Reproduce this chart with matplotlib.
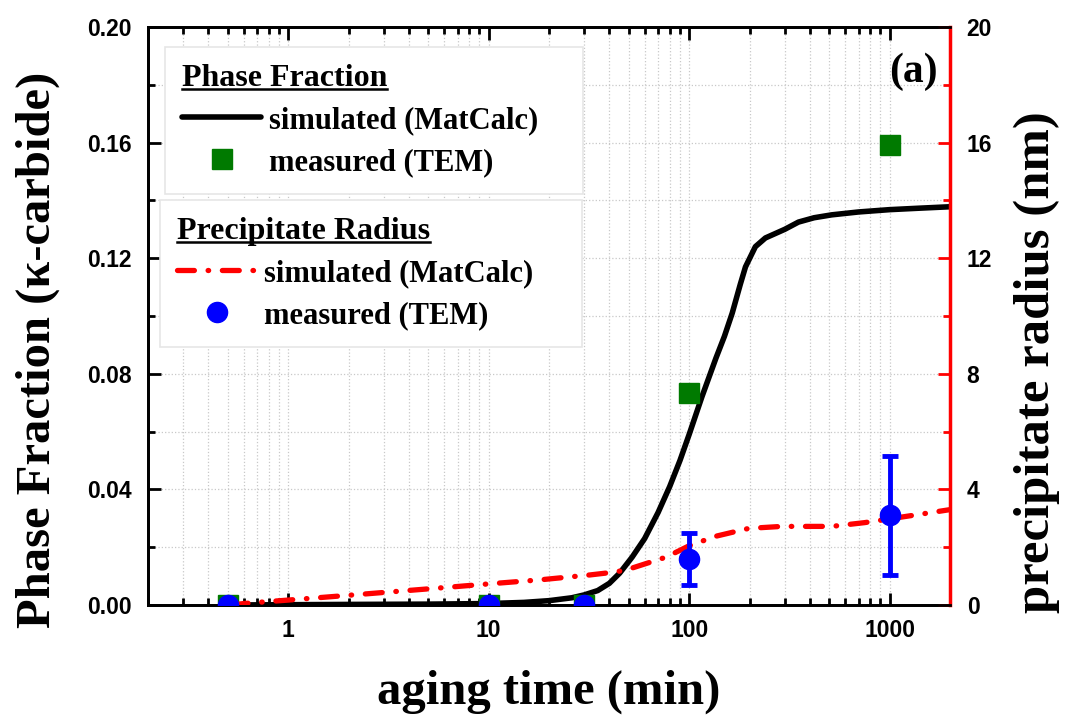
import matplotlib
matplotlib.use("Agg")
import matplotlib.pyplot as plt
from matplotlib.lines import Line2D
from matplotlib.ticker import LogLocator, MultipleLocator, FixedLocator, NullFormatter, FuncFormatter
import numpy as np

# ---- data ----
t_frac_sim = [0.5, 1, 2, 5, 10, 15, 20, 26, 30, 35, 40, 45, 52, 60, 70, 80, 90, 100,
              116, 136, 150, 164, 180, 191, 214, 240, 300, 351, 420, 514, 700, 1000, 1400, 2000]
frac_sim = [0.0, 0.0001, 0.0002, 0.0003, 0.0005, 0.0009, 0.0015, 0.0025, 0.0035, 0.005,
            0.0075, 0.011, 0.0166, 0.023, 0.032, 0.041, 0.050, 0.059, 0.0722, 0.0854, 0.093,
            0.101, 0.111, 0.117, 0.124, 0.127, 0.130, 0.1325, 0.134, 0.135, 0.136, 0.1368,
            0.1373, 0.1378]

t_rad_sim = [0.52, 0.6, 0.8, 1.0, 1.8, 3.2, 5.7, 10, 18, 32, 38, 46, 52, 77, 100, 136,
             198, 290, 514, 750, 1000, 1330, 2000]
rad_sim = [0.0, 0.05, 0.12, 0.17, 0.31, 0.45, 0.59, 0.73, 0.87, 1.04, 1.1, 1.18, 1.28,
           1.66, 2.05, 2.38, 2.65, 2.72, 2.72, 2.85, 2.98, 3.11, 3.3]

t_meas = [0.5, 10, 30, 100, 1000]
frac_meas = [0.0, 0.0, 0.0, 0.0735, 0.159]
rad_meas = [0.0, 0.0, 0.0, 1.6, 3.1]
rad_err = [0.0, 0.0, 0.0, 0.9, 2.05]

x_ticks = [1, 10, 100, 1000]
x_ticklabels = ["1", "10", "100", "1000"]
y_left_ticks = [0.00, 0.04, 0.08, 0.12, 0.16, 0.20]
y_right_ticks = [0, 4, 8, 12, 16, 20]

SERIF = "Liberation Serif"
SANS = "Liberation Sans"

fig = plt.figure(figsize=(10.65, 7.2), dpi=100)
ax = fig.add_axes([148/1065, 1-605/720, (950-148)/1065, (605-27)/720])
ax2 = ax.twinx()

# phase fraction
ax.plot(t_frac_sim, frac_sim, color="black", lw=4.0, solid_capstyle="round", zorder=3)
ax.plot(t_meas, frac_meas, ls="none", marker="s", ms=14, color="#007a00", zorder=4)

# radius
ax2.plot(t_rad_sim, rad_sim, color="red", lw=3.8, dashes=(3.2, 2.6, 0.1, 2.6),
         dash_capstyle="round", zorder=3)
ax2.errorbar(t_meas, rad_meas, yerr=rad_err, ls="none", marker="o", ms=14.5,
             color="#0000ff", ecolor="#0000ff", elinewidth=3.5, capsize=6, capthick=3.5,
             zorder=4)

ax.set_xscale("log")
ax.set_xlim(0.2, 2000)
ax.set_ylim(0, 0.20)
ax2.set_ylim(0, 20)

ax.xaxis.set_major_locator(FixedLocator(x_ticks))
ax.xaxis.set_major_formatter(FuncFormatter(lambda v, p: x_ticklabels[x_ticks.index(v)] if v in x_ticks else ""))
ax.xaxis.set_minor_locator(LogLocator(base=10, subs=np.arange(2, 10), numticks=20))
ax.xaxis.set_minor_formatter(NullFormatter())
ax.yaxis.set_major_locator(FixedLocator(y_left_ticks))
ax.yaxis.set_minor_locator(MultipleLocator(0.02))
ax.yaxis.set_major_formatter(FuncFormatter(lambda v, p: f"{v:.2f}"))
ax2.yaxis.set_major_locator(FixedLocator(y_right_ticks))
ax2.yaxis.set_minor_locator(MultipleLocator(2))

ax.grid(which="both", ls=":", color="#c8c8c8", lw=0.9)
ax.set_axisbelow(True)

ax.tick_params(which="both", direction="in", top=True, right=False, width=2, color="black")
ax.tick_params(which="major", length=9)
ax.tick_params(which="minor", length=5)
ax2.tick_params(which="both", direction="in", color="red", width=2, labelcolor="black")
ax2.tick_params(which="major", length=9)
ax2.tick_params(which="minor", length=5)

for lab in ax.get_xticklabels() + ax.get_yticklabels() + ax2.get_yticklabels():
    lab.set_fontfamily(SANS)
    lab.set_fontweight("bold")
    lab.set_fontsize(16.5)
ax.tick_params(axis="x", pad=10)
ax.tick_params(axis="y", pad=12)
ax2.tick_params(axis="y", pad=12)

for sp in ["left", "bottom", "top"]:
    ax.spines[sp].set_linewidth(2)
    ax2.spines[sp].set_linewidth(2)
ax.spines["right"].set_visible(False)
ax2.spines["right"].set_color("red")
ax2.spines["right"].set_linewidth(2.5)

ax.set_xlabel("aging time (min)", fontfamily=SERIF, fontweight="bold", fontsize=35)
ax.set_ylabel("Phase Fraction (\u03ba-carbide)", fontfamily=SERIF, fontweight="bold", fontsize=35)
ax2.set_ylabel("precipitate radius (nm)", fontfamily=SERIF, fontweight="bold", fontsize=36.5)
ax.xaxis.set_label_coords(0.5, (605-692)/578)
ax.yaxis.set_label_coords((38-148)/802, (605-350)/578)
ax2.yaxis.set_label_coords((1037-148)/802, (605-362)/578)
ax.xaxis.label.set_va("center")
ax.yaxis.label.set_va("center")
ax2.yaxis.label.set_va("center")

ax.text(0.985, 0.955, "(a)", transform=ax.transAxes, ha="right", va="top",
        fontfamily=SERIF, fontweight="bold", fontsize=30)

# legends
prop = {"family": SERIF, "weight": "bold", "size": 22}
tprop = {"family": SERIF, "weight": "bold", "size": 23}
h1 = [Line2D([], [], color="black", lw=4.0, solid_capstyle="round"),
      Line2D([], [], ls="none", marker="s", ms=14, color="#007a00")]
h2 = [Line2D([], [], color="red", lw=3.8, dashes=(3.2, 2.6, 0.1, 2.6), dash_capstyle="round"),
      Line2D([], [], ls="none", marker="o", ms=14.5, color="#0000ff")]
common = dict(loc="upper left", prop=prop, title_fontproperties=tprop, alignment="left",
              frameon=True, fancybox=False, edgecolor="#e6e6e6", framealpha=1,
              handlelength=2.6, handletextpad=0.25, labelspacing=0.43, borderpad=0.55,
              borderaxespad=0, mode="expand")
leg1 = ax2.legend(h1, ["simulated (MatCalc)", "measured (TEM)"], title="Phase Fraction",
                  bbox_to_anchor=((165-148)/802, 0.5, (583-165)/802, (605-47)/578 - 0.5),
                  **common)
ax2.add_artist(leg1)
leg2 = ax2.legend(h2, ["simulated (MatCalc)", "measured (TEM)"], title="Precipitate Radius",
                  bbox_to_anchor=((160-148)/802, 0.3, (582-160)/802, (605-200)/578 - 0.3),
                  **common)
leg1.get_frame().set_linewidth(1.2)
leg2.get_frame().set_linewidth(1.2)

fig.canvas.draw()
inv = fig.transFigure.inverted()
for lg in (leg1, leg2):
    bb = lg.get_title().get_window_extent()
    (x0, y0), (x1, _) = inv.transform([(bb.x0, bb.y0 + 4), (bb.x1, bb.y0 + 4)])
    fig.add_artist(Line2D([x0, x1], [y0, y0], color="black", lw=1.8, transform=fig.transFigure))

fig.savefig("out.png", dpi=100)
